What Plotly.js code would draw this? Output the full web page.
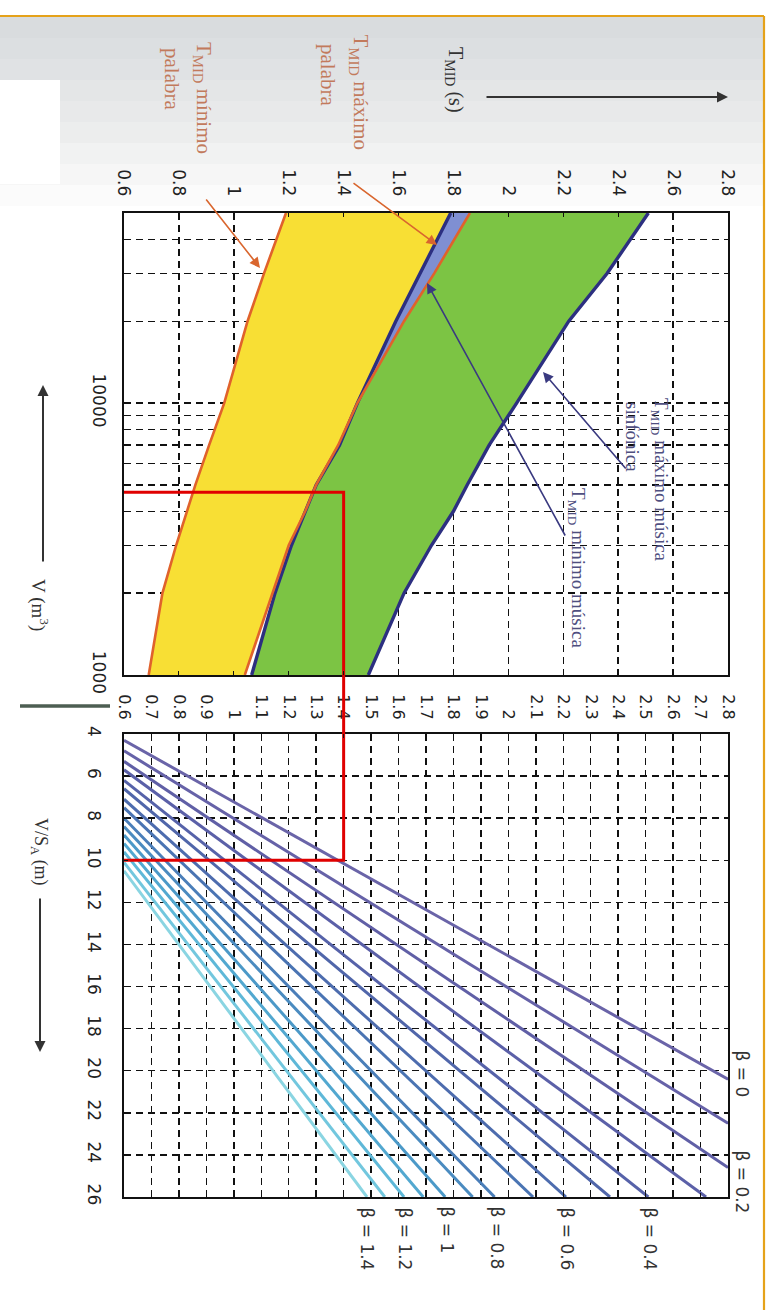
<!DOCTYPE html>
<html><head><meta charset="utf-8">
<script src="https://cdn.plot.ly/plotly-3.0.1.min.js"></script>
<style>html,body{margin:0;padding:0;background:#fff}</style>
</head><body><div id="chart" style="width:780px;height:1310px"></div>
<script>
// ---------- data ----------
// Upper chart: recommended T_MID (s) against room volume V (m3)
const volumes      = [1000, 2000, 3000, 4000, 5000, 7000, 10000, 20000, 30000, 50000];
const tMinPalabra  = [0.69, 0.74, 0.79, 0.83, 0.86, 0.91, 0.965, 1.05, 1.11, 1.19];
const tMaxPalabra  = [1.04, 1.14, 1.20, 1.26, 1.30, 1.38, 1.45, 1.62, 1.73, 1.86];
const tMinMusica   = [1.065, 1.15, 1.21, 1.26, 1.30, 1.385, 1.45, 1.59, 1.68, 1.79];
const tMaxMusica   = [1.49, 1.62, 1.72, 1.80, 1.85, 1.93, 2.03, 2.22, 2.36, 2.51];
const volumeTickVals = [1000,2000,3000,4000,5000,6000,7000,8000,9000,10000,20000,30000,40000,50000];
const volumeTickText = ['1000','','','','','','','','','10000','','','',''];

// Lower chart: T_MID (s) against V/S_A (m), one straight line per beta
const betas       = [0, 0.1, 0.2, 0.3, 0.4, 0.5, 0.6, 0.7, 0.8, 0.9, 1.0, 1.1, 1.2, 1.3, 1.4];
const betaStartT  = [0.6, 0.6, 0.6, 0.6, 0.6, 0.6, 0.6, 0.6, 0.6, 0.6, 0.6, 0.6, 0.6, 0.6, 0.6];
const betaStartVS = [4.3, 4.8, 5.3, 5.7, 6.2, 6.6, 7.1, 7.5, 8.0, 8.4, 8.8, 9.2, 9.6, 10.1, 10.5];
const betaEndT    = [2.8, 2.8, 2.8, 2.72, 2.51, 2.37, 2.21, 2.09, 1.95, 1.87, 1.77, 1.69, 1.62, 1.55, 1.485];
const betaEndVS   = [20.4, 22.5, 24.6, 26, 26, 26, 26, 26, 26, 26, 26, 26, 26, 26, 26];
const betaLabelled = ['0', '0.2', '0.4', '0.6', '0.8', '1', '1.2', '1.4'];

// Worked example marked in red
const exampleT = 1.4, exampleV = 4700, exampleVS = 10;

// ---------- styles ----------
const betaColors = ['#6a64a8','#6662a8','#605fa6','#5b60a8','#5662a9','#5066aa','#4d6cae','#4a74b3',
                    '#4a7eb9','#4a8bc0','#4b99c8','#52a8d0','#5eb8d8','#72c7de','#8ad5e2'];
const W = 780, H = 1310;
const PX = x => x / W, PY = y => 1 - y / H;
const upperDom = [PY(675), PY(213)], lowerDom = [PY(1197), PY(734)], xDom = [PX(124), PX(728)];
const ORANGE = '#e0622c', DBLUE = '#2c2f80';

function band(a, b) {
  return { x: a.concat(b.slice().reverse()), y: volumes.concat(volumes.slice().reverse()) };
}
const overlapHi = tMaxPalabra.map((v, i) => Math.max(v, tMinMusica[i]));

const traces = [];
const yel = band(tMinPalabra, tMaxPalabra);
traces.push({x: yel.x, y: yel.y, xaxis:'x', yaxis:'y', mode:'lines', fill:'toself', fillcolor:'#f8df34', line:{width:0}});
const grn = band(tMinMusica, tMaxMusica);
traces.push({x: grn.x, y: grn.y, xaxis:'x', yaxis:'y', mode:'lines', fill:'toself', fillcolor:'#7cc444', line:{width:0}});
const ovl = band(tMinMusica, overlapHi);
traces.push({x: ovl.x, y: ovl.y, xaxis:'x', yaxis:'y', mode:'lines', fill:'toself', fillcolor:'#7f8fd2', line:{width:0}});
traces.push({x: tMinPalabra, y: volumes, xaxis:'x', yaxis:'y', mode:'lines', line:{color:ORANGE, width:2.6}});
traces.push({x: tMaxMusica, y: volumes, xaxis:'x', yaxis:'y', mode:'lines', line:{color:DBLUE, width:3.4}});
traces.push({x: tMinMusica, y: volumes, xaxis:'x', yaxis:'y', mode:'lines', line:{color:DBLUE, width:3.4}});
traces.push({x: tMaxPalabra, y: volumes, xaxis:'x', yaxis:'y', mode:'lines', line:{color:ORANGE, width:2.6}});

betas.forEach((b, i) => {
  traces.push({x: [betaStartT[i], betaEndT[i]], y: [betaStartVS[i], betaEndVS[i]], xaxis:'x2', yaxis:'y2',
    mode:'lines', line:{color: betaColors[i], width:3}, name:'β = ' + b});
});

// red worked example
traces.push({x: [0.6, exampleT, exampleT], y: [exampleV, exampleV, 1000], xaxis:'x', yaxis:'y', mode:'lines',
  line:{color:'#e00000', width:3}, cliponaxis:false});
traces.push({x: [exampleT, exampleT, 0.6], y: [4, exampleVS, exampleVS], xaxis:'x2', yaxis:'y2', mode:'lines',
  line:{color:'#e00000', width:3}, cliponaxis:false});

const axBase = {
  showgrid:true, gridcolor:'#111111', griddash:'7px,5px', gridwidth:1.4,
  showline:true, mirror:'allticks', linecolor:'#111', linewidth:1.8,
  ticks:'inside', ticklen:4, tickcolor:'#111', zeroline:false, fixedrange:true,
  tickangle:90, tickfont:{family:'DejaVu Sans', size:17, color:'#222'}
};

const shapes = [];
// scanned grey band at the top
const greys = ['#d9dcde','#dcdfe1','#e0e2e4','#e4e6e7','#e8e9ea','#eceded','#f1f2f2','#f6f6f6','#fbfbfb'];
greys.forEach((c, i) => {
  const y0 = 17 + i * 21, y1 = y0 + 21;
  shapes.push({type:'rect', xref:'paper', yref:'paper', x0:0, x1:PX(763), y0:PY(y1), y1:PY(y0), fillcolor:c, line:{width:0}, layer:'below'});
});
shapes.push({type:'rect', xref:'paper', yref:'paper', x0:0, x1:PX(60), y0:PY(184), y1:PY(80), fillcolor:'#ffffff', line:{width:0}, layer:'below'});
// orange border of the scan
shapes.push({type:'line', xref:'paper', yref:'paper', x0:0, x1:PX(764), y0:PY(16), y1:PY(16), line:{color:'#e5a21a', width:2.2}});
shapes.push({type:'line', xref:'paper', yref:'paper', x0:PX(764), x1:PX(764), y0:PY(16), y1:0, line:{color:'#e5a21a', width:2.2}});
// small dark bar left of the "1000" label
shapes.push({type:'line', xref:'paper', yref:'paper', x0:PX(20), x1:PX(110), y0:PY(706), y1:PY(706), line:{color:'#4d5e52', width:3.5}});
// red line through the gap between the two charts
shapes.push({type:'line', xref:'x', yref:'paper', x0:exampleT, x1:exampleT, y0:upperDom[0], y1:lowerDom[1], line:{color:'#e00000', width:3}});

const ann = [];
function vtext(text, x, y, size, color, family) {
  ann.push({text, xref:'paper', yref:'paper', x:PX(x), y:PY(y), xanchor:'center', yanchor:'top',
    textangle:90, showarrow:false, font:{family: family || 'Liberation Serif', size, color}});
}
function arrow(hx, hy, tx, ty, color, width, size) {
  ann.push({text:'', xref:'paper', yref:'paper', x:PX(hx), y:PY(hy), ax:tx - hx, ay:ty - hy,
    showarrow:true, arrowhead:2, arrowsize:size || 1, arrowwidth:width, arrowcolor:color});
}
vtext('T<sub>MID</sub> (s)', 455, 45, 20, '#333');
vtext('T<sub>MID</sub> máximo', 360, 32, 21, '#c27a5c');
vtext('palabra', 328, 42, 21, '#c27a5c');
vtext('T<sub>MID</sub> mínimo', 203, 40, 21, '#c27a5c');
vtext('palabra', 172, 46, 21, '#c27a5c');
vtext('T<sub>MID</sub> máximo música', 660, 396, 19, '#4f4f7f');
vtext('sinfónica', 633, 400, 19, '#4f4f7f');
vtext('T<sub>MID</sub> mínimo música', 577, 486, 19, '#4f4f7f');
vtext('V (m<sup>3</sup>)', 40, 577, 19, '#333');
vtext('V/S<sub>A</sub> (m)', 40, 816, 18, '#333');

vtext('β = ' + betaLabelled[0], 742, 1048, 17, '#333', 'DejaVu Sans');
vtext('β = ' + betaLabelled[1], 742, 1148, 17, '#333', 'DejaVu Sans');
const belowX = [650, 567, 497, 447, 405, 367];
betaLabelled.slice(2).forEach((b, i) => vtext('β = ' + b, belowX[i], 1205, 17, '#333', 'DejaVu Sans'));

arrow(728, 97, 485, 97, '#333', 2, 1.1);
arrow(43, 385, 43, 563, '#333', 2, 1.1);
arrow(40, 1052, 40, 897, '#333', 2, 1.1);
arrow(260, 268, 205, 198, '#d9662e', 1.6, 1.3);
arrow(437, 245, 352, 182, '#d9662e', 1.6, 1.3);
arrow(543, 372, 627, 470, '#3a3a80', 1.6, 1.3);
arrow(427, 283, 566, 537, '#3a3a80', 1.6, 1.3);

const layout = {
  width:W, height:H, margin:{l:0, r:0, t:0, b:0}, autosize:false,
  paper_bgcolor:'#ffffff', plot_bgcolor:'rgba(0,0,0,0)', showlegend:false,
  xaxis: Object.assign({}, axBase, {domain:xDom, anchor:'y', range:[0.6, 2.8], side:'top', tick0:0.6, dtick:0.2, ticklabelstandoff:9}),
  yaxis: Object.assign({}, axBase, {domain:upperDom, anchor:'x', type:'log', range:[3, Math.log10(50000)],
    tickmode:'array', tickvals:volumeTickVals, ticktext:volumeTickText, ticklabelstandoff:9}),
  xaxis2: Object.assign({}, axBase, {domain:xDom, anchor:'y2', range:[0.6, 2.8], side:'top', tick0:0.6, dtick:0.1,
    ticklabelstandoff:7, tickfont:{family:'DejaVu Sans', size:16, color:'#222'}}),
  yaxis2: Object.assign({}, axBase, {domain:lowerDom, anchor:'x2', range:[26, 4], tick0:4, dtick:2, ticklabelstandoff:14}),
  shapes, annotations: ann
};
Plotly.newPlot('chart', traces, layout, {staticPlot:true, displayModeBar:false});
</script></body></html>
